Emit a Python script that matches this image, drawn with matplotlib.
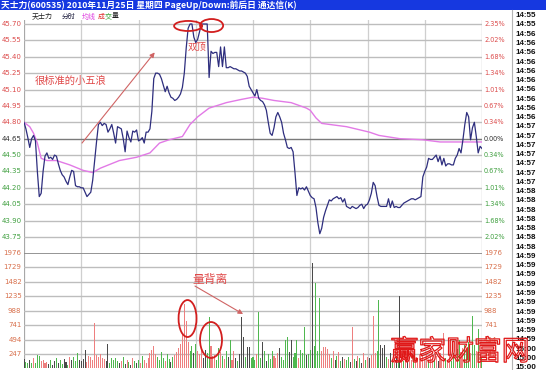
import matplotlib
matplotlib.use("Agg")
import matplotlib.pyplot as plt
import matplotlib.patheffects as pe
from matplotlib.patches import Ellipse, Rectangle
from matplotlib.lines import Line2D
from matplotlib.transforms import blended_transform_factory

plt.rcParams["font.family"] = ["Noto Sans CJK SC", "DejaVu Sans"]

# ---------------------------------------------------------------- data
title_text = "天士力(600535) 2010年11月25日 星期四 PageUp/Down:前后日 通达信(K)"
prev_close = 44.65

price_levels = [45.70, 45.55, 45.40, 45.25, 45.10, 44.95, 44.80,
                44.65, 44.50, 44.35, 44.20, 44.05, 43.90, 43.75]
pct_labels = ["2.35%", "2.02%", "1.68%", "1.34%", "1.01%", "0.67%", "0.34%",
              "0.00%", "0.34%", "0.67%", "1.01%", "1.34%", "1.68%", "2.02%"]
volume_levels = [1976, 1729, 1482, 1235, 988, 741, 494, 247]

tick_times = (["14:55"] * 2 + ["14:56"] * 10 + ["14:57"] * 7 +
              ["14:58"] * 7 + ["14:59"] * 10 + ["15:00"] * 3)

# minute-by-minute last price, 9:30 .. 15:00 (241 points)
price = [
    44.80, 44.74, 44.66, 44.57, 44.65, 44.68, 44.63, 44.35, 44.12, 44.15,
    44.35, 44.49, 44.52, 44.47, 44.48, 44.46, 44.50, 44.49, 44.42, 44.36,
    44.32, 44.30, 44.26, 44.23, 44.30, 44.36, 44.35, 44.22, 44.21, 44.21,
    44.20, 44.20, 44.16, 44.12, 44.14, 44.16, 44.27, 44.45, 44.62, 44.78,
    44.80, 44.77, 44.79, 44.78, 44.71, 44.74, 44.78, 44.70, 44.61, 44.76,
    44.75, 44.74, 44.65, 44.53, 44.72, 44.66, 44.62, 44.72, 44.71, 44.73,
    44.63, 44.64, 44.66, 44.61, 44.71, 44.71, 44.74, 44.90, 45.20, 45.25,
    45.25, 45.24, 45.20, 45.14, 45.08, 45.13, 45.07, 45.03, 45.02, 45.00,
    45.01, 45.03, 45.06, 45.12, 45.25, 45.48, 45.66, 45.70, 45.70, 45.58,
    45.53, 45.56, 45.63, 45.70, 45.70, 45.70, 45.70, 45.21, 45.45, 45.43,
    45.44, 45.44, 45.31, 45.49, 45.31, 45.49, 45.30, 45.30, 45.31, 45.30,
    45.29, 45.29, 45.28, 45.27, 45.27, 45.26, 45.25, 45.22, 45.13, 45.10,
    45.07, 45.04, 45.10, 45.02, 45.00, 44.99, 44.96, 44.91, 44.80, 44.70,
    44.68, 44.75, 44.85, 44.89, 44.85, 44.80, 44.70, 44.64, 44.57, 44.56,
    44.57, 44.53, 44.34, 44.13, 44.20, 44.19, 44.20, 44.18, 44.21, 44.17,
    44.13, 44.11, 44.10, 44.02, 43.88, 43.78, 43.83, 43.93, 43.99, 44.04,
    44.09, 44.08, 44.10, 44.11, 44.12, 44.10, 44.11, 44.07, 44.10, 44.03,
    44.02, 44.01, 44.03, 44.02, 44.01, 44.02, 44.04, 44.05, 44.01, 44.04,
    44.05, 44.09, 44.15, 44.25, 44.22, 44.12, 44.04, 44.03, 44.03, 44.03,
    44.03, 44.10, 44.02, 44.08, 44.02, 44.03, 44.02, 44.02, 44.04, 44.06,
    44.07, 44.08, 44.09, 44.10, 44.10, 44.09, 44.10, 44.11, 44.12, 44.30,
    44.35, 44.39, 44.47, 44.46, 44.46, 44.48, 44.50, 44.44, 44.49, 44.41,
    44.47, 44.40, 44.42, 44.42, 44.41, 44.41, 44.47, 44.50, 44.56, 44.52,
    44.64, 44.78, 44.89, 44.85, 44.64, 44.75, 44.80, 44.67, 44.52, 44.58,
    44.56,
]

# average-price line, sampled at these minutes
avg_minutes = [0, 3, 5, 7, 9, 12, 17, 24, 31, 36, 40, 50, 59, 66, 71, 76, 83,
               87, 91, 97, 106, 114, 120, 125, 131, 140, 148, 150, 153, 156,
               169, 181, 186, 197, 209, 218, 240]
avg_price = [44.80, 44.76, 44.70, 44.61, 44.47, 44.45, 44.45, 44.41, 44.36,
             44.34, 44.38, 44.45, 44.48, 44.52, 44.61, 44.64, 44.67, 44.78,
             44.85, 44.93, 44.98, 45.01, 45.03, 45.02, 45.00, 44.98, 44.93,
             44.91, 44.84, 44.79, 44.76, 44.71, 44.68, 44.65, 44.64, 44.62,
             44.62]

# per-minute volume (lots) and tick direction: 1 up, -1 down, 0 flat
volume = [
    160, 110, 90, 140, 100, 170, 95, 230, 210, 120,
    140, 90, 110, 70, 150, 60, 120, 180, 90, 140,
    80, 160, 110, 60, 190, 150, 200, 120, 260, 150,
    130, 160, 320, 110, 210, 190, 150, 777, 230, 200,
    250, 180, 160, 120, 418, 90, 180, 150, 170, 120,
    90, 130, 200, 80, 150, 110, 60, 180, 130, 90,
    150, 100, 220, 140, 90, 170, 260, 310, 380, 240,
    200, 150, 280, 180, 120, 250, 160, 110, 190, 230,
    280, 350, 420, 600, 1110, 820, 450, 300, 380, 260,
    420, 300, 250, 320, 180, 320, 260, 880, 390, 210,
    230, 150, 350, 280, 220, 160, 300, 190, 490, 140,
    290, 180, 120, 240, 880, 540, 200, 370, 370, 180,
    200, 150, 240, 965, 180, 450, 300, 130, 250, 160,
    300, 220, 180, 260, 350, 200, 150, 490, 540, 280,
    490, 200, 260, 490, 180, 310, 270, 710, 230, 250,
    320, 1800, 380, 1460, 300, 1200, 300, 370, 370, 340,
    250, 180, 300, 150, 220, 280, 120, 200, 160, 140,
    190, 110, 710, 160, 130, 220, 180, 100, 260, 150,
    200, 170, 230, 900, 260, 300, 1170, 400, 350, 400,
    200, 160, 270, 140, 180, 220, 150, 1240, 190, 130,
    170, 120, 200, 150, 230, 110, 180, 250, 300, 210,
    160, 240, 130, 200, 180, 150, 220, 120, 260, 140,
    600, 180, 150, 230, 120, 260, 200, 330, 490, 280,
    350, 400, 300, 450, 260, 895, 400, 300, 675, 250,
    200,
]
volume_dir = [
    0, -1, -1, 0, -1, 1, -1, -1, -1, 1,
    1, 1, 1, 0, -1, 0, 0, -1, 0, -1,
    -1, 0, 0, -1, 1, 0, -1, -1, -1, 0,
    0, 0, 0, 1, 1, 1, 1, 1, 1, 1,
    1, 1, 1, 0, 0, -1, -1, -1, -1, -1,
    0, 1, -1, 0, 1, -1, 0, 1, -1, 0,
    -1, 1, -1, 1, 1, 1, 1, 1, 1, 1,
    -1, -1, -1, -1, 1, -1, -1, 0, -1, 1,
    1, 1, 1, 1, 1, 1, 1, -1, -1, 0,
    -1, 1, 1, 1, 0, 0, -1, -1, 1, 1,
    1, -1, -1, 1, -1, 1, -1, 0, -1, 1,
    1, 0, -1, 0, 0, 0, -1, 0, 0, -1,
    -1, -1, 1, -1, -1, 0, -1, 0, -1, -1,
    -1, 1, 1, 1, 0, -1, -1, -1, -1, 0,
    0, -1, -1, -1, 1, -1, -1, -1, 0, -1,
    -1, 0, -1, -1, -1, -1, 1, 1, 1, 1,
    1, -1, 1, 0, -1, 1, -1, 0, 1, -1,
    -1, 0, 1, -1, 0, 1, -1, 0, 1, -1,
    1, 0, 1, 1, 1, -1, -1, 0, 0, 0,
    -1, 1, 0, -1, 1, 0, -1, 0, 1, -1,
    1, 0, 1, 1, -1, 1, 1, 1, 1, 1,
    1, 1, -1, 1, 1, -1, 1, 0, 1, 1,
    1, -1, 1, 1, -1, -1, 1, -1, -1, 1,
    1, -1, -1, -1, 1, -1, -1, 1, -1, 1,
    -1,
]

# ---------------------------------------------------------------- layout
W, H = 546, 370
fig = plt.figure(figsize=(W / 100, H / 100), dpi=100)
fig.patch.set_facecolor("white")


def fx(x):
    return x / W


def fy(y):
    return 1 - y / H


LEFT, RIGHT = 24, 482
P_TOP, P_BOT = 20, 253
V_BOT = 368.4

ppp = (237 - 24) / (price_levels[0] - price_levels[-1])  # pixels per yuan
ax_p = fig.add_axes([fx(LEFT), fy(P_BOT), (RIGHT - LEFT) / W, (P_BOT - P_TOP) / H])
ax_p.set_ylim(price_levels[-1] - (P_BOT - 237) / ppp,
              price_levels[0] + (24 - P_TOP) / ppp)
ax_v = fig.add_axes([fx(LEFT), fy(V_BOT), (RIGHT - LEFT) / W, (V_BOT - P_BOT) / H])
ax_v.set_ylim(0, volume_levels[0])

n_min = len(price) - 1
for ax in (ax_p, ax_v):
    ax.set_xlim(0, n_min)
    ax.set_axis_off()
    for m in range(0, n_min + 1, 30):
        edge = m in (0, n_min)
        ax.axvline(m, color="#a8a8a8" if edge else "#cfcfcf",
                   lw=0.9, zorder=0.5)

for lvl in price_levels:
    is_base = abs(lvl - prev_close) < 1e-6
    ax_p.axhline(lvl, color="#7a7a7a" if is_base else "#bdbdbd",
                 lw=1.0, zorder=0.6)
for lvl in volume_levels:
    top = lvl == volume_levels[0]
    ax_v.axhline(lvl, color="#8c8c8c" if top else "#bdbdbd",
                 lw=1.3 if top else 1.0, zorder=0.6)

# ---------------------------------------------------------------- series
minutes = list(range(len(price)))
ax_p.plot(avg_minutes, avg_price, color="#e27ae6", lw=1.0, zorder=2)
ax_p.plot(minutes, price, color="#2e2e7e", lw=0.9, zorder=3)

dir_colors = {1: "#ee7f7f", -1: "#4fb84f", 0: "#4a4a4a"}
ax_v.bar(minutes, volume, width=0.55,
         color=[dir_colors[d] for d in volume_dir], linewidth=0, zorder=2)

# ---------------------------------------------------------------- axis labels
red, green, dark = "#dc4c4c", "#3f9f3f", "#303030"
tp = blended_transform_factory(fig.transFigure, ax_p.transData)
for lvl, pct in zip(price_levels, pct_labels):
    c = dark if abs(lvl - prev_close) < 1e-6 else (red if lvl > prev_close else green)
    ax_p.text(fx(21.5), lvl, f"{lvl:.2f}", transform=tp, ha="right",
              va="center", fontsize=5, family="DejaVu Sans", color=c)
    ax_p.text(fx(484), lvl, pct, transform=tp, ha="left",
              va="center", fontsize=4.7, family="DejaVu Sans", color=c)

tv = blended_transform_factory(fig.transFigure, ax_v.transData)
for lvl in volume_levels:
    ax_v.text(fx(21.5), lvl, str(lvl), transform=tv, ha="right", va="center",
              fontsize=5, family="DejaVu Sans", color="#d8704c")
    ax_v.text(fx(484), lvl, str(lvl), transform=tv, ha="left", va="center",
              fontsize=5, family="DejaVu Sans", color="#d8704c")

# time column on the right
fig.add_artist(Line2D([fx(512), fx(512)], [fy(9.5), 0], color="#b4b4b4", lw=0.8))
for i, t in enumerate(tick_times):
    fig.text(fx(515), fy(15.7 + 9.26 * i), t, fontsize=5.8, fontweight="bold",
             family="Liberation Sans", color="#101010", va="center")

# title bar
fig.add_artist(Rectangle((0, fy(9.5)), 1, 9.5 / H, transform=fig.transFigure,
                         facecolor="#1638e0", edgecolor="none", zorder=0))
fig.text(fx(1), fy(4.8), title_text, color="white", fontsize=6.3,
         fontweight="bold", va="center", ha="left")

# legend row
for x, s, c in [(32, "天士力", "#202020"), (62, "分时", "#202040"),
                (82, "均线", "#e040e0"), (98, "成", "#e03030"),
                (105, "交", "#30a030"), (112, "量", "#202020")]:
    fig.text(fx(x), fy(16.5), s, fontsize=5, color=c, va="center", ha="left")

# ---------------------------------------------------------------- annotations
note_red = "#e04848"
ax_p.text(24.6, 45.18, "很标准的小五浪", fontsize=7.4, color=note_red,
          ha="center", va="center", zorder=5)
ax_p.annotate("", xy=(68.5, 45.44), xytext=(30.4, 44.61),
              arrowprops=dict(arrowstyle="-|>", color="#d06464", lw=0.8,
                              mutation_scale=7, shrinkA=0, shrinkB=0))
ax_p.text(90.7, 45.49, "双顶", fontsize=6.8, color=note_red,
          ha="center", va="center", zorder=5)
for cx, cy, w, h in [(86.0, 45.682, 14.7, 0.092), (98.3, 45.686, 12.1, 0.119)]:
    ax_p.add_patch(Ellipse((cx, cy), w, h, fill=False, ec="#d21e1e",
                           lw=1.3, clip_on=False, zorder=6))

ax_v.text(97.5, 1530, "量背离", fontsize=8.5, color=note_red,
          ha="center", va="center", zorder=5)
ax_v.annotate("", xy=(114.8, 931), xytext=(89.6, 1410),
              arrowprops=dict(arrowstyle="-|>", color="#d06464", lw=0.8,
                              mutation_scale=7, shrinkA=0, shrinkB=0))
for cx, cy, w, h in [(85.7, 854, 9.4, 633), (98.0, 486, 11.5, 616)]:
    ax_v.add_patch(Ellipse((cx, cy), w, h, fill=False, ec="#d21e1e",
                           lw=1.3, clip_on=False, zorder=6))

fig.text(fx(460), fy(352), "赢家财富网", fontsize=20, color=(1, 1, 1, 0),
         ha="center", va="center", zorder=10,
         path_effects=[pe.Stroke(linewidth=0.9, foreground="#e01818")])

fig.savefig("out.png", dpi=100)
